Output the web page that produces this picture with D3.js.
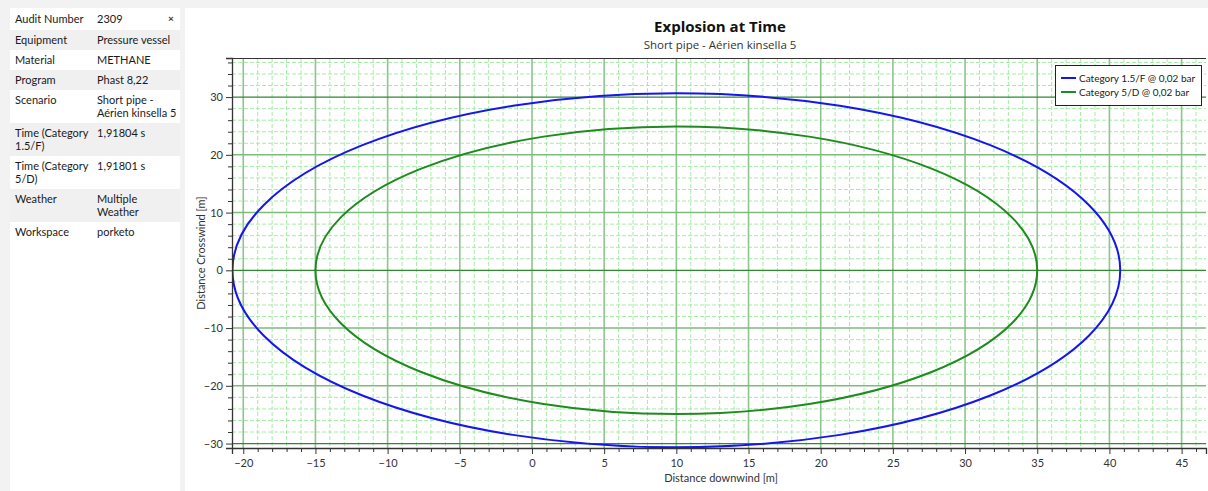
<!DOCTYPE html>
<html><head><meta charset="utf-8">
<script src="https://cdn.jsdelivr.net/npm/d3@7/dist/d3.min.js"></script>
<style>
html,body{margin:0;padding:0;background:#f2f2f2;}
svg{display:block;font-family:"Lato","Open Sans",sans-serif;}
</style></head>
<body>
<svg id="c" width="1208" height="491"></svg>
<script>
// ---- data ----
const infoLabels = ["Audit Number","Equipment","Material","Program","Scenario","Time (Category|1.5/F)","Time (Category|5/D)","Weather","Workspace"];
const infoValues = ["2309","Pressure vessel","METHANE","Phast 8,22","Short pipe -|Aérien kinsella 5","1,91804 s","1,91801 s","Multiple|Weather","porketo"];
const seriesNames = ["Category 1.5/F @ 0,02 bar","Category 5/D @ 0,02 bar"];
const seriesCenterX = [10, 10];
const seriesCenterY = [0, 0];
const seriesRadiusX = [30.75, 25.0];
const seriesRadiusY = [30.65, 24.9];
const xTickLabels = [-20,-15,-10,-5,0,5,10,15,20,25,30,35,40,45];
const yTickLabels = [-30,-20,-10,0,10,20,30];
const chartTitle = "Explosion at Time";
const chartSubtitle = "Short pipe - Aérien kinsella 5";
const xTitle = "Distance downwind [m]";
const yTitle = "Distance Crosswind [m]";

// ---- styles ----
const colors = ["#1515f0","#1f8a1f"];
const svg = d3.select("#c");

// left info panel
const panel = svg.append("g");
panel.append("rect").attr("x",10).attr("y",8).attr("width",170).attr("height",483).attr("fill","#ffffff");
let yy = 9;
infoLabels.forEach((lab,i)=>{
  const twoLine = lab.includes("|") || infoValues[i].includes("|");
  const h = i===0 ? 21 : (twoLine ? 33 : 20);
  if(i%2===1) panel.append("rect").attr("x",10).attr("y",yy).attr("width",170).attr("height",h).attr("fill","#f0f0f0");
  lab.split("|").forEach((t,k)=>panel.append("text").attr("x",15).attr("y",yy+14+k*13).attr("font-size",11).attr("fill","#1a1a1a").text(t));
  infoValues[i].split("|").forEach((t,k)=>panel.append("text").attr("x",97).attr("y",yy+14+k*13).attr("font-size",11).attr("fill","#1a1a1a").text(t));
  yy += h;
});
panel.append("text").attr("x",171).attr("y",22).attr("font-size",10).attr("font-weight","bold").attr("text-anchor","middle").attr("fill","#333").text("×");

// chart panel
svg.append("rect").attr("x",185).attr("y",8).attr("width",1023).attr("height",483).attr("fill","#ffffff");

const L=232, R=1206, T=58, B=448;
const x = d3.scaleLinear().domain([-20.78, 46.69]).range([L,R]);
const y = d3.scaleLinear().domain([-30.77, 36.77]).range([B,T]);

const g = svg.append("g");
svg.append("clipPath").attr("id","pc").append("rect").attr("x",L).attr("y",T).attr("width",R-L).attr("height",B-T);
const grid = g.append("g").attr("clip-path","url(#pc)");

const xMinor = d3.range(-20,47,1).filter(v=>v%5!==0);
const yMinor = d3.range(-30,37,2).filter(v=>v%10!==0);
grid.selectAll(".xm").data(xMinor).join("line")
  .attr("x1",d=>x(d)).attr("x2",d=>x(d)).attr("y1",T).attr("y2",B)
  .attr("stroke","#a6eca6").attr("stroke-width",1).attr("stroke-dasharray","4,2");
grid.selectAll(".ym").data(yMinor).join("line")
  .attr("x1",L).attr("x2",R).attr("y1",d=>y(d)).attr("y2",d=>y(d))
  .attr("stroke","#a6eca6").attr("stroke-width",1).attr("stroke-dasharray","4,2");
grid.selectAll(".xM").data(xTickLabels).join("line")
  .attr("x1",d=>x(d)).attr("x2",d=>x(d)).attr("y1",T).attr("y2",B)
  .attr("stroke","#8cc68c").attr("stroke-width",1.6);
grid.selectAll(".yM").data(yTickLabels).join("line")
  .attr("x1",L).attr("x2",R).attr("y1",d=>y(d)).attr("y2",d=>y(d))
  .attr("stroke",d=>(d%30===0)?"#2f8a2f":"#7fba7f").attr("stroke-width",d=>(d%30===0)?1.2:1.5);

// series
const series = seriesNames.map((n,i)=>({name:n,cx:seriesCenterX[i],cy:seriesCenterY[i],rx:seriesRadiusX[i],ry:seriesRadiusY[i],color:colors[i]}));
grid.selectAll(".s").data(series).join("ellipse")
  .attr("cx",d=>x(d.cx)).attr("cy",d=>y(d.cy))
  .attr("rx",d=>x(d.cx+d.rx)-x(d.cx)).attr("ry",d=>y(d.cy)-y(d.cy+d.ry))
  .attr("fill","none").attr("stroke",d=>d.color).attr("stroke-width",2);

// frame
g.append("line").attr("x1",L).attr("x2",R).attr("y1",T+0.5).attr("y2",T+0.5).attr("stroke","#333");

// axes
const axisColor="#333";
const xa = g.append("g").attr("transform",`translate(0,${B})`)
  .call(d3.axisBottom(x).tickValues(xTickLabels).tickSize(6).tickPadding(5).tickFormat(d3.format("d")));
const xam = g.append("g").attr("transform",`translate(0,${B})`)
  .call(d3.axisBottom(x).tickValues(xMinor).tickSize(4).tickFormat(""));
const ya = g.append("g").attr("transform",`translate(${L},0)`)
  .call(d3.axisLeft(y).tickValues(yTickLabels).tickSize(6).tickPadding(3).tickFormat(d3.format("d")));
const yam = g.append("g").attr("transform",`translate(${L},0)`)
  .call(d3.axisLeft(y).tickValues(yMinor).tickSize(4).tickFormat(""));
[xa,xam,ya,yam].forEach(a=>{
  a.select(".domain").attr("stroke",axisColor).attr("stroke-width",1.3);
  a.selectAll(".tick line").attr("stroke",axisColor);
  a.selectAll("text").attr("font-size",11).attr("fill","#333").attr("font-family","Lato,sans-serif");
});
xam.select(".domain").remove(); yam.select(".domain").remove();

// titles
svg.append("text").attr("x",720).attr("y",32).attr("text-anchor","middle").attr("font-family","'Open Sans',sans-serif").attr("font-size",15).attr("font-weight","bold").attr("fill","#111").text(chartTitle);
svg.append("text").attr("x",720).attr("y",49).attr("text-anchor","middle").attr("font-family","'Open Sans',sans-serif").attr("font-size",11.5).attr("fill","#333").text(chartSubtitle);
svg.append("text").attr("x",721).attr("y",482).attr("text-anchor","middle").attr("font-size",11).attr("fill","#333").text(xTitle);
svg.append("text").attr("transform",`translate(205,${(T+B)/2}) rotate(-90)`).attr("text-anchor","middle").attr("font-size",11).attr("fill","#333").text(yTitle);

// legend
const lg = svg.append("g");
lg.append("rect").attr("x",1055.5).attr("y",65.5).attr("width",146).attr("height",40).attr("fill","#fff").attr("stroke","#222");
series.forEach((s,i)=>{
  lg.append("line").attr("x1",1061).attr("x2",1076).attr("y1",78+i*14).attr("y2",78+i*14).attr("stroke",s.color).attr("stroke-width",2);
  lg.append("text").attr("x",1079).attr("y",82+i*14).attr("font-size",10).attr("fill","#222").text(s.name);
});
</script>
</body></html>
